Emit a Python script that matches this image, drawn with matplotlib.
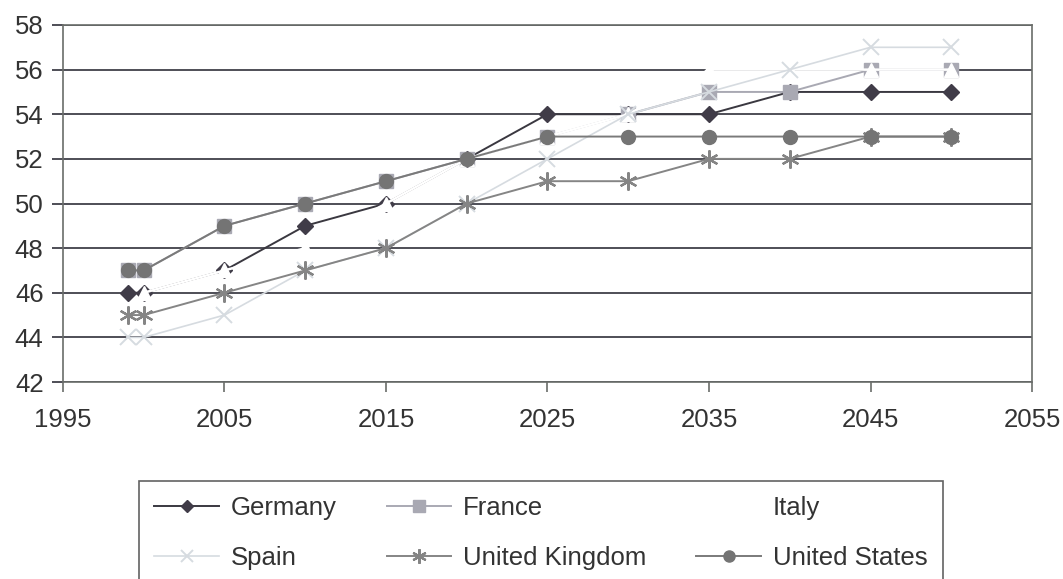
import matplotlib
matplotlib.use("Agg")
import matplotlib.pyplot as plt

plt.rcParams['font.family'] = ['Liberation Sans', 'DejaVu Sans']

years = [1999, 2000, 2005, 2010, 2015, 2020, 2025, 2030, 2035, 2040, 2045, 2050]

germany = [46, 46, 47, 49, 50, 52, 54, 54, 54, 55, 55, 55]
france = [47, 47, 49, 50, 51, 52, 53, 54, 55, 55, 56, 56]
italy = [45, 46, 47, 48, 50, 52, 53, 54, 56, 56, 56, 56]
spain = [44, 44, 45, 47, 48, 50, 52, 54, 55, 56, 57, 57]
uk = [45, 45, 46, 47, 48, 50, 51, 51, 52, 52, 53, 53]
us = [47, 47, 49, 50, 51, 52, 53, 53, 53, 53, 53, 53]

x_ticks = [1995, 2005, 2015, 2025, 2035, 2045, 2055]
y_ticks = [42, 44, 46, 48, 50, 52, 54, 56, 58]

ASTERISK = (6, 2, 0)
GRID = '#4e4e56'

fig = plt.figure(figsize=(10.63, 5.79), dpi=100)
ax = fig.add_axes([63 / 1063, 1 - 382 / 579, 969 / 1063, 357 / 579])

ax.set_xlim(1995, 2055)
ax.set_ylim(42, 58)
ax.set_xticks(x_ticks)
ax.set_yticks(y_ticks)
ax.yaxis.grid(True, color=GRID, linewidth=1.4)
ax.set_axisbelow(True)
for s in ax.spines.values():
    s.set_color('#6a6d6a')
    s.set_linewidth(1.2)
ax.tick_params(axis='x', direction='out', length=7, width=1.2, color='#6a6d6a',
               labelsize=18.5, pad=12, labelcolor='#333333')
ax.tick_params(axis='y', direction='out', length=8, width=1.4, color=GRID,
               labelsize=18.5, pad=6, labelcolor='#333333')

h_de, = ax.plot(years, germany, color='#3a3840', lw=1.4, marker='D', ms=8,
                mfc='#403c48', mec='#403c48', label='Germany')
h_fr, = ax.plot(years, france, color='#a9a9b3', lw=1.4, marker='s', ms=10,
                mfc='#a9a9b3', mec='#a9a9b3', label='France')
h_it, = ax.plot(years, italy, color='white', lw=1.8, marker='^', ms=10,
                mfc='white', mec='white', label='Italy')
h_es, = ax.plot(years, spain, color='#d6dbe0', lw=1.2, marker='x', ms=11,
                mew=1.4, label='Spain')
h_uk, = ax.plot(years, uk, color='#858585', lw=1.4, marker=ASTERISK, ms=13,
                mew=1.6, mec='#858585', label='United Kingdom')
h_us, = ax.plot(years, us, color='#7a7a7a', lw=1.4, marker='o', ms=10,
                mfc='#747474', mec='#747474', label='United States')

# legend is filled column-wise, so reorder to get the row-wise look
handles = [h_de, h_es, h_fr, h_uk, h_it, h_us]
leg = fig.legend(handles=handles, labels=[h.get_label() for h in handles],
                 ncol=3, loc='upper left',
                 bbox_to_anchor=(139 / 1063, 1 - 481 / 579),
                 borderaxespad=0, fontsize=18.5, frameon=True, fancybox=False,
                 handlelength=2.5, handletextpad=0.47, columnspacing=1.95,
                 labelspacing=1.0, borderpad=0.6, markerscale=0.8)
leg.get_frame().set_edgecolor('#3a3a3a')
leg.get_frame().set_linewidth(1.2)
for t in leg.get_texts():
    t.set_color('#333333')

fig.savefig('out.png', dpi=100)
